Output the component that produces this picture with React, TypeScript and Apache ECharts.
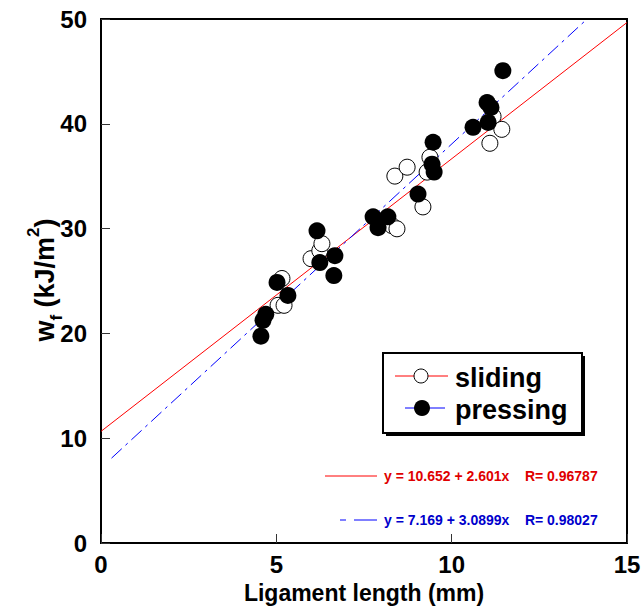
import React, { useEffect, useRef } from "react";
import * as echarts from "echarts";

const slidingX = [5.05, 5.22, 5.16, 5.99, 6.24, 6.3, 8.3, 8.44, 8.38, 8.73, 9.18, 9.3, 9.38, 11.18, 11.43, 11.09];
const slidingY = [22.68, 22.68, 25.24, 27.13, 27.89, 28.56, 30.28, 29.98, 35.01, 35.86, 32.07, 35.39, 36.81, 40.7, 39.47, 38.14];

const pressingX = [4.56, 4.62, 4.7, 5.02, 5.33, 6.16, 6.24, 6.67, 6.64, 7.76, 7.9, 8.18, 9.04, 9.47, 9.44, 9.5, 10.61, 11.01, 11.12, 11.04, 11.46];
const pressingY = [19.73, 21.25, 21.82, 24.86, 23.62, 29.79, 26.76, 27.42, 25.52, 31.12, 30.08, 31.12, 33.3, 38.24, 36.15, 35.39, 39.66, 42.03, 41.56, 40.13, 45.07];

const slidingFit = { a: 10.652, b: 2.601, r: 0.96787, xFrom: 0, xTo: 15 };
const pressingFit = { a: 7.169, b: 3.0899, r: 0.98027, xFrom: 0.3, xTo: 13.862 };

const xTicks = [0, 5, 10, 15];
const yTicks = [0, 10, 20, 30, 40, 50];

const FONT = "'Liberation Sans', Arial, sans-serif";

function fitLine(f: { a: number; b: number; xFrom: number; xTo: number }) {
  return [
    [f.xFrom, f.a + f.b * f.xFrom],
    [f.xTo, f.a + f.b * f.xTo],
  ];
}

export default function App() {
  const ref = useRef<HTMLDivElement>(null);
  useEffect(() => {
    if (!ref.current) return;
    const chart = echarts.init(ref.current, null, { renderer: "svg" });
    const axisLabel = { fontFamily: FONT, fontWeight: "bold", fontSize: 24, color: "#000" };
    chart.setOption({
      animation: false,
      backgroundColor: "#fff",
      grid: { left: 101, right: 17, top: 19, bottom: 63, show: true, borderColor: "#000", borderWidth: 2 },
      xAxis: {
        type: "value",
        min: xTicks[0],
        max: xTicks[xTicks.length - 1],
        interval: 5,
        splitLine: { show: false },
        axisLine: { lineStyle: { color: "#000", width: 2 } },
        axisTick: { inside: true, length: 9, lineStyle: { color: "#333", width: 1 } },
        axisLabel: { ...axisLabel, margin: 9 },
        name: "Ligament length (mm)",
        nameLocation: "middle",
        nameGap: 38,
        nameTextStyle: { fontFamily: FONT, fontWeight: "bold", fontSize: 23, color: "#000" },
      },
      yAxis: {
        type: "value",
        min: yTicks[0],
        max: yTicks[yTicks.length - 1],
        interval: 10,
        splitLine: { show: false },
        axisLine: { lineStyle: { color: "#000", width: 2 } },
        axisTick: { inside: true, length: 9, lineStyle: { color: "#333", width: 1 } },
        axisLabel: { ...axisLabel, margin: 14 },
      },
      series: [
        {
          type: "line",
          data: fitLine(slidingFit),
          showSymbol: false,
          lineStyle: { color: "#ff0000", width: 1 },
          z: 1,
        },
        {
          type: "line",
          data: fitLine(pressingFit),
          showSymbol: false,
          lineStyle: { color: "#0000ff", width: 1, type: [14, 5, 3, 5] },
          z: 1,
        },
        {
          type: "scatter",
          name: "sliding",
          data: slidingX.map((x, i) => [x, slidingY[i]]),
          symbolSize: 16,
          itemStyle: { color: "#fff", borderColor: "#000", borderWidth: 1, opacity: 1 },
          z: 2,
        },
        {
          type: "scatter",
          name: "pressing",
          data: pressingX.map((x, i) => [x, pressingY[i]]),
          symbolSize: 17,
          itemStyle: { color: "#000", opacity: 1 },
          z: 3,
        },
      ],
      graphic: [
        {
          type: "text",
          x: 45,
          y: 280,
          rotation: Math.PI / 2,
          style: {
            text: "w{sub|f} (kJ/m{sup|2})",
            fontFamily: FONT,
            fontWeight: "bold",
            fontSize: 27,
            fill: "#000",
            align: "center",
            verticalAlign: "middle",
            lineHeight: 40,
            rich: {
              sub: { fontFamily: FONT, fontWeight: "bold", fontSize: 17, verticalAlign: "bottom", lineHeight: 36 },
              sup: { fontFamily: FONT, fontWeight: "bold", fontSize: 17, verticalAlign: "top", lineHeight: 36 },
            },
          },
        },
        { type: "rect", shape: { x: 386, y: 356, width: 199, height: 80 }, style: { fill: "#000" }, z: 10 },
        { type: "rect", shape: { x: 383, y: 353, width: 199, height: 80 }, style: { fill: "#fff", stroke: "#000", lineWidth: 2 }, z: 11 },
        { type: "line", shape: { x1: 395, y1: 376, x2: 448, y2: 376 }, style: { stroke: "#ff0000", lineWidth: 1 }, z: 12 },
        { type: "circle", shape: { cx: 421, cy: 376, r: 7 }, style: { fill: "#fff", stroke: "#000", lineWidth: 1 }, z: 13 },
        { type: "text", x: 455, y: 378, style: { text: "sliding", fontFamily: FONT, fontWeight: "bold", fontSize: 27, fill: "#000", verticalAlign: "middle" }, z: 13 },
        { type: "line", shape: { x1: 405, y1: 408, x2: 445, y2: 408 }, style: { stroke: "#0000ff", lineWidth: 1 }, z: 12 },
        { type: "circle", shape: { cx: 422, cy: 408, r: 8 }, style: { fill: "#000" }, z: 13 },
        { type: "text", x: 455, y: 410, style: { text: "pressing", fontFamily: FONT, fontWeight: "bold", fontSize: 27, fill: "#000", verticalAlign: "middle" }, z: 13 },
        { type: "line", shape: { x1: 325, y1: 476, x2: 377, y2: 476 }, style: { stroke: "#ff0000", lineWidth: 1 }, z: 12 },
        {
          type: "text",
          x: 384,
          y: 476,
          style: {
            text: `y = ${slidingFit.a} + ${slidingFit.b}x    R= ${slidingFit.r}`,
            fontFamily: FONT,
            fontWeight: "bold",
            fontSize: 14,
            fill: "#e00000",
            verticalAlign: "middle",
          },
          z: 12,
        },
        { type: "line", shape: { x1: 340, y1: 520, x2: 377, y2: 520 }, style: { stroke: "#0000ff", lineWidth: 1, lineDash: [6, 8, 22, 0] }, z: 12 },
        {
          type: "text",
          x: 384,
          y: 520,
          style: {
            text: `y = ${pressingFit.a} + ${pressingFit.b}x    R= ${pressingFit.r}`,
            fontFamily: FONT,
            fontWeight: "bold",
            fontSize: 14,
            fill: "#0000cc",
            verticalAlign: "middle",
          },
          z: 12,
        },
      ],
    });
    return () => chart.dispose();
  }, []);
  return <div ref={ref} style={{ position: "absolute", left: 0, top: 0, width: 644, height: 609 }} />;
}
